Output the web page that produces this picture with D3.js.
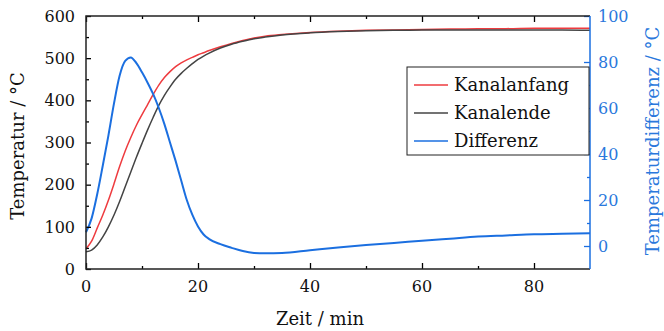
<!DOCTYPE html>
<html>
<head>
<meta charset="utf-8">
<script src="https://cdn.jsdelivr.net/npm/d3@7"></script>
<style>
  body { margin: 0; background: #fff; }
  svg { display: block; font-family: "DejaVu Serif", serif; }
</style>
</head>
<body>
<div id="chart"></div>
<script>
// Zeitstützstellen in Minuten
const zeit = [0, 1, 2, 3, 4, 5, 6, 7, 8, 9, 10, 11, 12, 13, 14, 15, 16, 17, 18, 19, 20,
  21, 22, 24, 26, 28, 30, 32, 35, 40, 45, 50, 55, 60, 65, 70, 75, 80, 85, 90];

// Temperatur am Kanalanfang (°C)
const kanalanfang = [48, 66, 97, 128, 163, 202, 243, 280, 312, 341, 366, 390, 414, 436, 454, 468, 480, 489, 496, 502, 508,
  513, 518, 527, 535, 542, 548, 552, 556, 561, 564, 566, 567, 568, 569, 570, 570, 571, 571, 571];

// Temperatur am Kanalende (°C)
const kanalende = [41, 45, 57, 76, 100, 128, 160, 195, 230, 265, 298, 330, 360, 388, 412, 432, 450, 464, 476, 487, 497,
  505, 512, 524, 533, 540, 546, 550, 555, 560, 563, 565, 566, 567, 567, 567, 567, 567, 567, 566];

// Temperaturdifferenz (°C)
const differenz = [6, 12, 22.5, 35, 48, 62, 74, 80.5, 82, 79.5, 75.5, 71, 66, 60, 53, 45, 37, 28.5, 20, 13.5, 8.5,
  5, 3, 0.8, -0.8, -2.2, -3, -3.2, -3, -1.8, -0.6, 0.4, 1.3, 2.3, 3.2, 4.1, 4.6, 5.1, 5.3, 5.5];

const xTicks = [0, 20, 40, 60, 80];
const yTicksLinks = [0, 100, 200, 300, 400, 500, 600];
const yTicksRechts = [0, 20, 40, 60, 80, 100];

const width = 664, height = 331;
const margin = {top: 16, right: 74, bottom: 62, left: 86};

const rot = '#ee3b3f', grau = '#444444', blau = '#1b6fe0', blauText = '#2a78dc';

const svg = d3.select('#chart').append('svg')
  .attr('width', width)
  .attr('height', height);

const x = d3.scaleLinear().domain([0, 90]).range([margin.left, width - margin.right]);
const yL = d3.scaleLinear().domain([0, 600]).range([height - margin.bottom, margin.top]);
const yR = d3.scaleLinear().domain([-10, 100]).range([height - margin.bottom, margin.top]);

const x0 = margin.left, x1 = width - margin.right;
const y0 = height - margin.bottom, y1 = margin.top;

// Kurven
const linie = y => d3.line()
  .x((d, i) => x(zeit[i]))
  .y(d => y(d))
  .curve(d3.curveMonotoneX);

const kurven = svg.append('g');
kurven.append('path').datum(kanalanfang)
  .attr('d', linie(yL)).attr('fill', 'none')
  .attr('stroke', rot).attr('stroke-width', 1.5);
kurven.append('path').datum(kanalende)
  .attr('d', linie(yL)).attr('fill', 'none')
  .attr('stroke', grau).attr('stroke-width', 1.5);
kurven.append('path').datum(differenz)
  .attr('d', linie(yR)).attr('fill', 'none')
  .attr('stroke', blau).attr('stroke-width', 2);

// Rahmen und Achsen
const achsen = svg.append('g');

achsen.append('g').attr('transform', `translate(0,${y0})`)
  .call(d3.axisBottom(x).tickValues(d3.range(0, 91, 10)).tickFormat(''))
  .call(g => g.selectAll('.tick line').attr('y2', d => d % 20 === 0 ? -6 : -3))
  .call(g => g.select('.domain').remove());
achsen.append('g').attr('transform', `translate(0,${y1})`)
  .call(d3.axisTop(x).tickValues(d3.range(0, 91, 10)).tickFormat(''))
  .call(g => g.selectAll('.tick line').attr('y2', d => d % 20 === 0 ? 6 : 3))
  .call(g => g.select('.domain').remove());

achsen.append('g').attr('transform', `translate(${x0},0)`)
  .call(d3.axisLeft(yL).tickValues(d3.range(0, 601, 50)).tickFormat(''))
  .call(g => g.selectAll('.tick line').attr('x2', d => d % 100 === 0 ? 5 : 3))
  .call(g => g.select('.domain').remove());

achsen.append('g').attr('transform', `translate(${x1},0)`)
  .call(d3.axisRight(yR).tickValues(d3.range(-10, 101, 10)).tickFormat(''))
  .call(g => g.selectAll('.tick line').attr('stroke', blau).attr('x2', d => d % 20 === 0 ? -6 : -3))
  .call(g => g.select('.domain').remove());

achsen.selectAll('.tick line').attr('stroke-width', 1.3);
achsen.selectAll('.tick').filter(d => d === -10 || d === 90).remove();

achsen.append('path')
  .attr('d', `M${x1},${y1}H${x0}V${y0}H${x1}`)
  .attr('fill', 'none').attr('stroke', '#222').attr('stroke-width', 1.5);
achsen.append('line')
  .attr('x1', x1).attr('x2', x1).attr('y1', y1).attr('y2', y0)
  .attr('stroke', blau).attr('stroke-width', 1.5);

// Beschriftungen
const zahl = 16, titel = 18;
svg.append('g').selectAll('text').data(xTicks).join('text')
  .attr('x', d => x(d)).attr('y', y0 + 23)
  .attr('text-anchor', 'middle').attr('font-size', zahl).attr('fill', '#111')
  .text(d => d);

svg.append('g').selectAll('text').data(yTicksLinks).join('text')
  .attr('x', x0 - 11).attr('y', d => yL(d)).attr('dy', '0.36em')
  .attr('text-anchor', 'end').attr('font-size', zahl).attr('fill', '#111')
  .text(d => d);

svg.append('g').selectAll('text').data(yTicksRechts).join('text')
  .attr('x', x1 + 8).attr('y', d => yR(d)).attr('dy', '0.36em')
  .attr('text-anchor', 'start').attr('font-size', zahl).attr('fill', blauText)
  .text(d => d);

svg.append('text')
  .attr('x', 320).attr('y', 325)
  .attr('text-anchor', 'middle').attr('font-size', titel).attr('fill', '#111')
  .text('Zeit / min');

svg.append('text')
  .attr('transform', 'translate(24,146) rotate(-90)')
  .attr('text-anchor', 'middle').attr('font-size', titel).attr('fill', '#111')
  .text('Temperatur / °C');

svg.append('text')
  .attr('transform', 'translate(659,141) rotate(-90)')
  .attr('text-anchor', 'middle').attr('font-size', titel).attr('fill', blauText)
  .text('Temperaturdifferenz / °C');

// Legende
const serien = [
  {name: 'Kanalanfang', farbe: rot},
  {name: 'Kanalende', farbe: grau},
  {name: 'Differenz', farbe: blau}
];
const legende = svg.append('g').attr('transform', 'translate(407,67)');
legende.append('rect')
  .attr('width', 182).attr('height', 88)
  .attr('fill', '#fff').attr('stroke', '#222').attr('stroke-width', 1);
const zeile = legende.selectAll('g.zeile').data(serien).join('g')
  .attr('class', 'zeile')
  .attr('transform', (d, i) => `translate(0,${18 + i * 28})`);
zeile.append('line')
  .attr('x1', 7).attr('x2', 41)
  .attr('stroke', d => d.farbe).attr('stroke-width', 1.5);
zeile.append('text')
  .attr('x', 47).attr('dy', '0.35em')
  .attr('font-size', 18).attr('fill', '#111')
  .text(d => d.name);
</script>
</body>
</html>
